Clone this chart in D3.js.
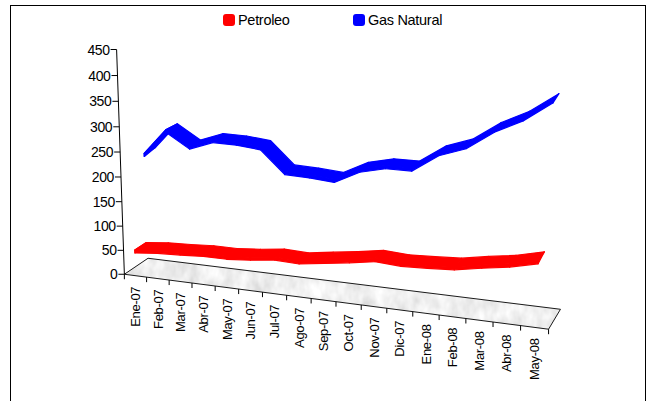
<!DOCTYPE html>
<html><head><meta charset="utf-8">
<script src="https://cdn.jsdelivr.net/npm/d3@7/dist/d3.min.js"></script>
<style>
html,body{margin:0;padding:0;background:#fff;}
svg{display:block;font-family:"Liberation Sans",Arial,sans-serif;}
</style></head>
<body>
<script>
// ---------- data ----------
const categories = ["Ene-07","Feb-07","Mar-07","Abr-07","May-07","Jun-07","Jul-07","Ago-07","Sep-07","Oct-07","Nov-07","Dic-07","Ene-08","Feb-08","Mar-08","Abr-08","May-08"];
const seriesNames = ["Petroleo","Gas Natural"];
const petroleo   = [53, 58, 60, 63, 63, 67, 73, 71, 78, 85, 93, 90, 92, 95, 104, 112, 124];
const gasNatural = [236, 288, 259, 276, 275, 270, 226, 224, 220, 244, 255, 255, 288, 305, 339, 363, 398];
const yTicks = [0, 50, 100, 150, 200, 250, 300, 350, 400, 450];
const seriesColors = ["#ff0000", "#0000ff"];

// ---------- layout: 3D view calibration (screen anchors of the plot box) ----------
const W = 648, H = 401;
const view = {
  frontLeft: [124.5, 274], frontRight: [548.5, 329.5],
  backLeft: [148, 258.5], backRight: [560.5, 309],
  axisTop: [116.7, 49.5], axisMid: [120.5, 177], frontMidX: 324
};
const ribbonThickness = 6; // value units of the ribbon's front face

// scales into normalised world space
const x = d3.scaleBand().domain(categories).range([0, 1]);
const y = d3.scaleLinear().domain([0, 450]).range([0, 1]);
const z = d3.scaleBand().domain(seriesNames).range([0, 1]).paddingInner(0.04).paddingOuter(0.02);

// ---------- solve projection (DLT, least squares) ----------
function solveProjection() {
  const fm = view.frontMidX;
  const fmy = view.frontLeft[1] + (fm - view.frontLeft[0]) * (view.frontRight[1] - view.frontLeft[1]) / (view.frontRight[0] - view.frontLeft[0]);
  const corr = [
    {X:0,Y:0,Z:0,s:view.frontLeft,w:3},
    {X:1,Y:0,Z:0,s:view.frontRight,w:3},
    {X:0,Y:0,Z:1,s:view.backLeft,w:3},
    {X:1,Y:0,Z:1,s:view.backRight,w:3},
    {X:0,Y:1,Z:0,s:view.axisTop,w:3},
    {X:0,Y:y(200),Z:0,s:view.axisMid,w:2},
    {X:0.5,Y:0,Z:0,s:[fm,fmy],w:1}
  ];
  const rows = [], rhs = [];
  corr.forEach(c => {
    const [u, v] = c.s, {X, Y, Z, w} = c;
    rows.push([X*w,Y*w,Z*w,w,0,0,0,0,-u*X*w,-u*Y*w,-u*Z*w]); rhs.push(u*w);
    rows.push([0,0,0,0,X*w,Y*w,Z*w,w,-v*X*w,-v*Y*w,-v*Z*w]); rhs.push(v*w);
  });
  const n = 11;
  const M = Array.from({length:n}, () => new Array(n+1).fill(0));
  rows.forEach((r,k) => {
    for (let i=0;i<n;i++){ for (let j=0;j<n;j++) M[i][j] += r[i]*r[j]; M[i][n] += r[i]*rhs[k]; }
  });
  for (let c=0;c<n;c++){
    let piv=c; for (let r=c+1;r<n;r++) if (Math.abs(M[r][c])>Math.abs(M[piv][c])) piv=r;
    [M[c],M[piv]]=[M[piv],M[c]];
    for (let r=0;r<n;r++){ if(r===c) continue; const f=M[r][c]/M[c][c]; for (let j=c;j<=n;j++) M[r][j]-=f*M[c][j]; }
  }
  return M.map((row,i)=>row[n]/row[i]);
}
const P = solveProjection();
function project(X, Y, Z) {
  const w = P[8]*X + P[9]*Y + P[10]*Z + 1;
  return [(P[0]*X + P[1]*Y + P[2]*Z + P[3]) / w, (P[4]*X + P[5]*Y + P[6]*Z + P[7]) / w];
}
const pts = a => a.map(p=>p.join(",")).join(" ");

// ---------- draw ----------
const svg = d3.select("body").append("svg").attr("width", W).attr("height", H);
const defs = svg.append("defs");
const filt = defs.append("filter").attr("id","marble").attr("x","0").attr("y","0").attr("width","1").attr("height","1");
filt.append("feTurbulence").attr("type","fractalNoise").attr("baseFrequency","0.08 0.05").attr("numOctaves",3).attr("seed",4).attr("result","n");
filt.append("feColorMatrix").attr("in","n").attr("type","matrix")
  .attr("values","0.45 0 0 0 0.64  0.45 0 0 0 0.64  0.45 0 0 0 0.64  0 0 0 0 1").attr("result","g");
filt.append("feComposite").attr("in","g").attr("in2","SourceGraphic").attr("operator","in");

svg.append("rect").attr("x",10.5).attr("y",5.5).attr("width",635).attr("height",430)
  .attr("fill","#fff").attr("stroke","#000").attr("stroke-width",1);

// legend
const legend = svg.append("g");
const legendX = [223, 353];
seriesNames.forEach((s,i) => {
  const g = legend.append("g").attr("transform", `translate(${legendX[i]},14)`);
  g.append("rect").attr("width",12).attr("height",12).attr("rx",3).attr("fill",seriesColors[i]);
  g.append("text").attr("x",15).attr("y",6).attr("dy","0.36em").attr("font-size","14.5px").attr("letter-spacing","-0.3px").attr("fill","#000").text(s);
});

// floor
const floorPts = [project(0,0,0), project(1,0,0), project(1,0,1), project(0,0,1)];
svg.append("polygon").attr("points", pts(floorPts)).attr("fill","#e0e0e0").attr("filter","url(#marble)");
svg.append("polygon").attr("points", pts(floorPts)).attr("fill","none").attr("stroke","#000").attr("stroke-width",0.9);

// y axis
const ax0 = project(0,0,0), ax1 = project(0,1,0);
svg.append("line").attr("x1",ax0[0]).attr("y1",ax0[1]).attr("x2",ax1[0]).attr("y2",ax1[1]).attr("stroke","#000").attr("stroke-width",1);
const yg = svg.append("g");
yTicks.forEach(t => {
  const p = project(0, y(t), 0);
  yg.append("line").attr("x1",p[0]-6).attr("x2",p[0]).attr("y1",p[1]).attr("y2",p[1]).attr("stroke","#000");
  yg.append("text").attr("x",p[0]-7).attr("y",p[1]).attr("dy","0.36em").attr("text-anchor","end")
    .attr("font-size","14px").attr("letter-spacing","-0.4px").text(t);
});

// x axis ticks + labels
const xg = svg.append("g");
const edges = categories.map(c => x(c)).concat([1]);
edges.forEach(t => {
  const p = project(t,0,0);
  xg.append("line").attr("x1",p[0]).attr("x2",p[0]).attr("y1",p[1]).attr("y2",p[1]+5).attr("stroke","#000");
});
categories.forEach(c => {
  const p = project(x(c)+x.bandwidth()/2, 0, 0);
  xg.append("text").attr("transform",`translate(${p[0]},${p[1]+11}) rotate(-90)`)
    .attr("dy","0.36em").attr("text-anchor","end").attr("font-size","13px").attr("letter-spacing","-0.3px").text(c);
});

// ribbons (back series first)
const seriesData = [petroleo, gasNatural];
[1,0].forEach(si => {
  const vals = seriesData[si], name = seriesNames[si];
  const z0 = z(name), z1 = z(name) + z.bandwidth();
  const tc = i => x(categories[i]) + x.bandwidth()/2;
  const front = vals.map((v,i) => project(tc(i), y(v), z0));
  const back  = vals.map((v,i) => project(tc(i), y(v), z1));
  const low   = vals.map((v,i) => project(tc(i), y(v - ribbonThickness), z0));
  const g = svg.append("g").attr("fill", seriesColors[si]).attr("stroke", seriesColors[si])
    .attr("stroke-width",1.2).attr("stroke-linejoin","round");
  for (let i=0;i<vals.length-1;i++){
    g.append("polygon").attr("points", pts([front[i], front[i+1], back[i+1], back[i]]));
    g.append("polygon").attr("points", pts([front[i], front[i+1], low[i+1], low[i]]));
  }
  const last = vals.length-1;
  g.append("polygon").attr("points", pts([back[last], front[last], low[last]]));
  g.append("polygon").attr("points", pts([back[0], front[0], low[0]]));
});
</script>
</body></html>
